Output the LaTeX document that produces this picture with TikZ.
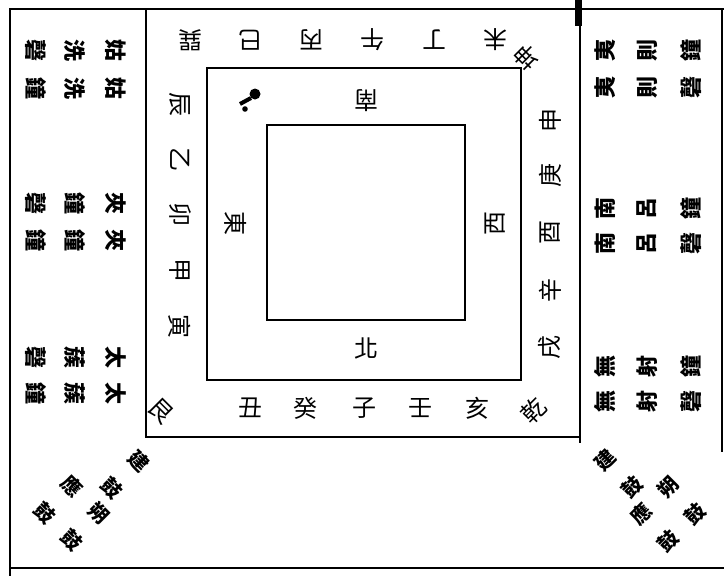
\documentclass[tikz,border=0pt]{standalone}
\usepackage{fontspec}
\newfontfamily\cjk{Noto Sans CJK TC}
\tikzset{
  zi/.style={font=\cjk\fontsize{24}{24}\selectfont, inner sep=0pt},
  bell/.style={font=\cjk\bfseries\fontsize{22}{22}\selectfont, inner sep=0pt},
  drum/.style={font=\cjk\bfseries\fontsize{20}{20}\selectfont, inner sep=0pt},
  frame/.style={line width=2.8pt},
}
\begin{document}
\begin{tikzpicture}[x=1pt,y=-1pt]
  \useasboundingbox (0,0) rectangle (724,576);
  % frame
  \draw[frame] (10,576) -- (10,9) -- (724,9);
  \draw[frame] (10,568) -- (724,568);
  \draw[frame] (146,9) -- (146,437) -- (580,437);
  \draw[frame] (580,9) -- (580,443);
  \draw[line width=1.8pt] (722,9) -- (722,452);
  \draw[line width=2.8pt] (207,68) rectangle (521,380);
  \draw[line width=2.4pt] (267,125) rectangle (465,320);
  % ink marks
  \fill (575,0) rectangle (582,26);
  \fill (255,94) circle (5.5);
  \draw[line width=4pt] (251,98) -- (240,104);
  \fill (245,109) circle (2.8);
  % inner ring
  \node[zi,rotate=180] (nan) at (366,101) {南};
  \node[zi] (bei) at (366,348) {北};
  \node[zi,rotate=-90] (dong) at (236,223) {東};
  \node[zi,rotate=90] (xi) at (495,223) {西};
  % outer ring
  \foreach \x/\t in {190/巽,250/巳,311/丙,372/午,434/丁,495/未}
    \node[zi,rotate=180] (s\x) at (\x,40) {\t};
  \foreach \y/\t in {120/申,175/庚,232/酉,290/辛,347/戌}
    \node[zi,rotate=90] (w\y) at (550,\y) {\t};
  \foreach \x/\t in {250/丑,305/癸,364/子,420/壬,477/亥}
    \node[zi] (n\x) at (\x,408) {\t};
  \foreach \y/\t in {104/辰,159/乙,214/卯,270/甲,326/寅}
    \node[zi,rotate=-90] (e\y) at (180,\y) {\t};
  \node[zi,rotate=135] (kun) at (527,57) {坤};
  \node[zi,rotate=45] (qian) at (534,411) {乾};
  \node[zi,rotate=-45] (gen) at (161,411) {艮};
  % bells, left
  \foreach \y/\a/\b/\c in {50/姑/洗/磬,88/姑/洗/鐘,203/夾/鐘/磬,240/夾/鐘/鐘,357/太/蔟/磬,393/太/蔟/鐘}{
    \node[bell,rotate=-90] (la\y) at (116,\y) {\a};
    \node[bell,rotate=-90] (lb\y) at (75,\y) {\b};
    \node[bell,rotate=-90] (lc\y) at (36,\y) {\c};
  }
  % bells, right
  \foreach \y/\a/\b/\c in {50/夷/則/鐘,87/夷/則/磬,208/南/呂/鐘,243/南/呂/磬,366/無/射/鐘,401/無/射/磬}{
    \node[bell,rotate=90] (ra\y) at (605,\y) {\a};
    \node[bell,rotate=90] (rb\y) at (647,\y) {\b};
    \node[bell,rotate=90] (rc\y) at (691,\y) {\c};
  }
  % drums
  \node[drum,rotate=-45] (jl1) at (139,461) {建};
  \node[drum,rotate=-45] (jl2) at (112,488) {鼓};
  \node[drum,rotate=-45] (yl1) at (72,486) {應};
  \node[drum,rotate=-45] (yl2) at (45,513) {鼓};
  \node[drum,rotate=-45] (sl1) at (99,513) {朔};
  \node[drum,rotate=-45] (sl2) at (72,540) {鼓};
  \node[drum,rotate=45] (jr1) at (605,460) {建};
  \node[drum,rotate=45] (jr2) at (632,487) {鼓};
  \node[drum,rotate=45] (yr1) at (641,514) {應};
  \node[drum,rotate=45] (yr2) at (668,541) {鼓};
  \node[drum,rotate=45] (sr1) at (668,487) {朔};
  \node[drum,rotate=45] (sr2) at (695,514) {鼓};
\end{tikzpicture}
\end{document}
